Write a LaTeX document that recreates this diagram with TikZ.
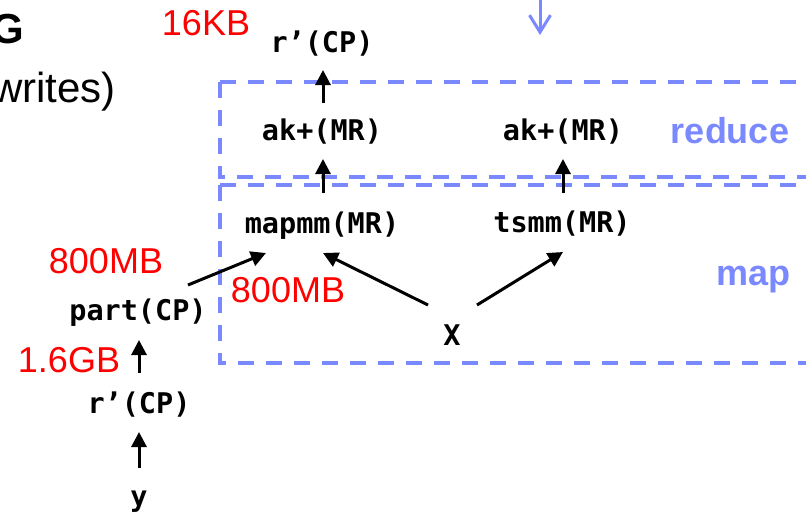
\documentclass[tikz,border=0pt]{standalone}
\usepackage{fontspec}
\setmainfont{Liberation Sans}
\newfontfamily\codefont{DejaVu Sans Mono}
\usetikzlibrary{arrows.meta,calc}
\definecolor{phaseblue}{RGB}{122,137,255}
\definecolor{sizered}{RGB}{255,0,0}
\begin{document}
\begin{tikzpicture}[x=1pt,y=-1pt,
  op/.style={font=\codefont\bfseries\fontsize{28.5}{30}\selectfont, inner sep=0pt, anchor=base},
  size/.style={text=sizered, font=\fontsize{36}{40}\selectfont, inner sep=0pt, anchor=base},
  phase/.style={text=phaseblue, font=\bfseries\fontsize{36}{40}\selectfont, inner sep=0pt, anchor=base},
  heading/.style={font=\fontsize{42}{46}\selectfont, inner sep=0pt, anchor=base east},
  flow/.style={line width=3pt, -{Triangle[length=15pt,width=15pt]}},
  frame/.style={phaseblue, line width=4pt, dash pattern=on 16pt off 12pt},
]
\useasboundingbox (0,0) rectangle (806,514);
\clip (0,0) rectangle (806,514);
\fill[white] (0,0) rectangle (806,514);

% headings running off the left edge
\node[heading, font=\bfseries\fontsize{42}{46}\selectfont] (title) at (24,43) {G};
\node[heading] (subtitle) at (116,102) {writes)};

% reduce and map phase frames
\draw[frame] (220,82) -- (830,82);
\draw[frame] (220,82) -- (220,177) -- (830,177);
\draw[frame] (220,185) -- (830,185);
\draw[frame] (220,185) -- (220,363) -- (830,363);
\node[phase] (reduce) at (730,143) {reduce};
\node[phase] (map) at (753.5,285) {map};

% incoming edge into the reduce frame
\coordinate (inTop) at (540,-4);
\coordinate (inEnd) at (540,35);
\draw[phaseblue, line width=3pt, -{Straight Barb[length=17pt,width=21pt]}] (inTop) -- (inEnd);

% operators
\node[op] (rtop) at (322,52) {r’(CP)};
\node[op] (akL) at (322,140) {ak+(MR)};
\node[op] (akR) at (563,140) {ak+(MR)};
\node[op] (mapL) at (322,233) {mapmm(MR)};
\node[op] (tsmm) at (562,232) {tsmm(MR)};
\node[op] (part) at (138,320) {part(CP)};
\node[op] (X) at (452,345) {X};
\node[op] (rlow) at (139,413) {r’(CP)};
\node[op] (yin) at (139,506) {y};

% data sizes
\node[size] (s16kb) at (206,35) {16KB};
\node[size] (s800a) at (106,273) {800MB};
\node[size] (s800b) at (288,302) {800MB};
\node[size] (s16gb) at (69,372) {1.6GB};

% data flow
\draw[flow] ($(akL.base)+(1,-37)$) -- ($(rtop.base)+(1,18)$);
\draw[flow] ($(mapL.base)+(1,-40)$) -- ($(akL.base)+(1,19)$);
\draw[flow] ($(tsmm.base)+(1,-39)$) -- ($(akR.base)+(0,19)$);
\draw[flow] ($(part.base)+(50,-35)$) -- ($(mapL.base)+(-56,20)$);
\draw[flow] ($(X.base)+(-24,-40)$) -- ($(mapL.base)+(1,20)$);
\draw[flow] ($(X.base)+(25,-40)$) -- ($(tsmm.base)+(1,20)$);
\draw[flow] ($(rlow.base)+(0,-40)$) -- ($(part.base)+(1,20)$);
\draw[flow] ($(yin.base)+(0,-38)$) -- ($(rlow.base)+(0,19)$);
\end{tikzpicture}
\end{document}
